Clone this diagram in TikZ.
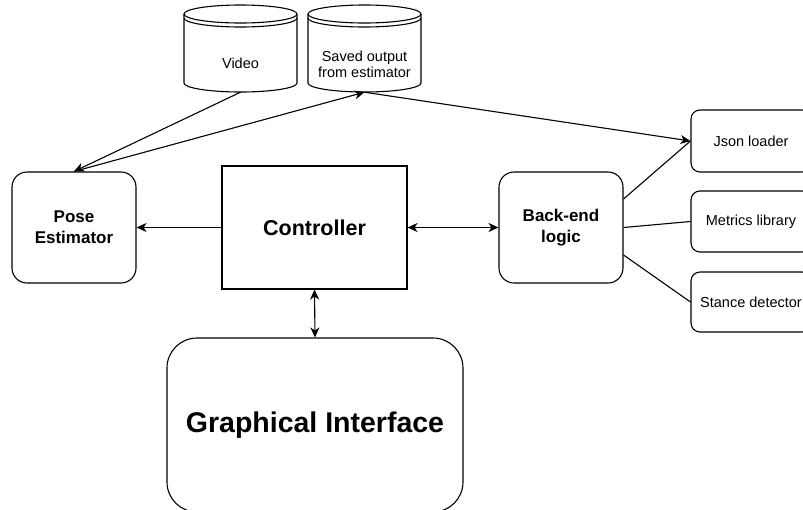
\documentclass[tikz,border=0pt]{standalone}
\usepackage{fontspec}
\setmainfont{Liberation Sans}
\usetikzlibrary{arrows.meta}
\newcommand\dstore[1]{%
  \begin{scope}[shift={(#1,0)}]
    \draw[line width=1.1pt, fill=white] (-56.5,14) -- (-56.5,83)
      arc[start angle=180, end angle=0, x radius=56.5, y radius=9] -- (56.5,14);
    \draw[line width=1.1pt, fill=white] (0,14) ellipse [x radius=56.5, y radius=9];
    \draw[line width=1.1pt] (-56.5,18) arc[start angle=180, end angle=0, x radius=56.5, y radius=9];
  \end{scope}}
\begin{document}
\begin{tikzpicture}[x=1pt, y=-1pt,
  bigbox/.style={draw, line width=1.1pt, rounded corners=15pt, align=center, inner sep=0pt,
    minimum width=124pt, minimum height=111pt,
    font=\bfseries\fontsize{17}{21}\selectfont},
  smallbox/.style={draw, line width=1.1pt, rounded corners=9pt, align=center, inner sep=0pt,
    minimum width=120pt, font=\fontsize{14.5}{16}\selectfont},
  txt/.style={align=center, inner sep=0pt, font=\fontsize{14.5}{16}\selectfont},
  ghost/.style={inner sep=0pt, minimum width=113pt, minimum height=87pt},
  tip/.tip={Stealth[length=10pt, width=9pt, inset=3pt]},
  arr/.style={line width=1.1pt, -tip},
  darr/.style={line width=1.1pt, tip-tip},
  plain/.style={line width=1.1pt}]
\useasboundingbox (0,0) rectangle (803,509);
\clip (0,0) rectangle (803,509);

% data stores
\dstore{240.5}
\dstore{364.5}
\node[ghost] (video) at (240.5,48.5) {};
\node[ghost] (saved) at (364.5,48.5) {};
\node[txt] (videotxt) at (240.5,63) {Video};
\node[txt] (savedtxt) at (364.5,64) {Saved output\\from estimator};

% main boxes
\node[bigbox] (pose) at (74,227.5) {Pose\\Estimator};
\node[draw, line width=1.1pt, minimum width=185pt, minimum height=123pt, inner sep=0pt,
  font=\bfseries\fontsize{21.5}{25}\selectfont] (ctrl) at (314.5,227.5) {Controller};
\node[bigbox] (back) at (561,227.5) {Back-end\\logic};
\node[draw, line width=1.1pt, rounded corners=30pt, minimum width=296pt, minimum height=174pt,
  inner sep=0pt, font=\bfseries\fontsize{28.5}{32}\selectfont] (gui) at (315,425) {Graphical Interface};

% side boxes
\node[smallbox, minimum height=62pt] (json) at (751,141) {Json loader};
\node[smallbox, minimum height=61pt] (metrics) at (751,221.5) {Metrics library};
\node[smallbox, minimum height=60pt] (stance) at (751,302) {Stance detector};

% connectors
\draw[arr] (video.south) -- (pose.north);
\draw[arr] (pose.north) -- (saved.south);
\draw[arr] (saved.south) -- (json.west);
\draw[arr] (ctrl.west) -- (pose.east);
\draw[darr] (ctrl.east) -- (back.west);
\draw[darr] (ctrl.south) -- (gui.north);
\draw[plain] ([yshift=28.5pt]back.east) -- (json.west);
\draw[plain] (back.east) -- (metrics.west);
\draw[plain] ([yshift=-27.5pt]back.east) -- (stance.west);
\end{tikzpicture}
\end{document}
